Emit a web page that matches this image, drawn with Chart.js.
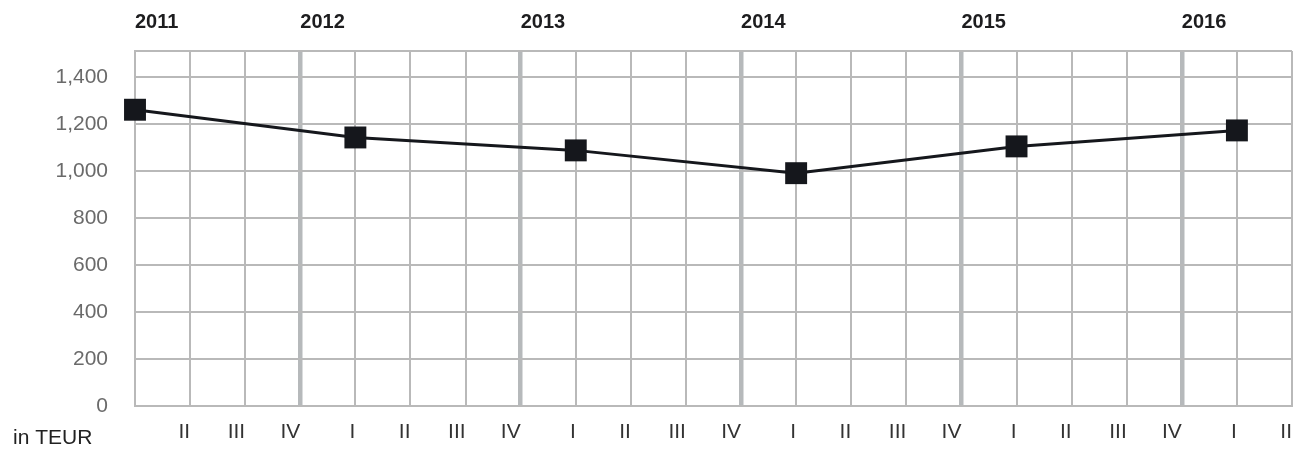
<!DOCTYPE html>
<html>
<head>
<meta charset="utf-8">
<script src="https://cdn.jsdelivr.net/npm/chart.js@4/dist/chart.umd.min.js"></script>
<style>
  html, body { margin: 0; padding: 0; background: #fff; }
  #wrap { position: relative; width: 1293px; height: 452px; }
</style>
</head>
<body>
<div id="wrap"><canvas id="c" width="1293" height="452"></canvas></div>
<script>
// Quarter tick labels (bottom axis)
const quarterLabels = ['', 'II', 'III', 'IV', 'I', 'II', 'III', 'IV', 'I', 'II', 'III', 'IV',
                       'I', 'II', 'III', 'IV', 'I', 'II', 'III', 'IV', 'I', 'II'];
// Year labels (top axis)
const yearLabels = ['2011', '', '', '2012', '', '', '', '2013', '', '', '', '2014',
                    '', '', '', '2015', '', '', '', '2016', '', ''];
// Values in TEUR (only at quarter I of each year)
const values = [1261, null, null, null, 1143, null, null, null, 1088, null, null, null,
                991, null, null, null, 1105, null, null, null, 1173, null];
const yTicks = [0, 200, 400, 600, 800, 1000, 1200, 1400];
const unitLabel = 'in TEUR';

const FONT = "'Liberation Sans', Arial, Helvetica, sans-serif";
const GRID = '#b9b9b9';
const THICK = '#b6b9bb';

const unitPlugin = {
  id: 'unitLabel',
  afterDraw(chart) {
    const ctx = chart.ctx;
    ctx.save();
    ctx.font = '21px ' + FONT;
    ctx.fillStyle = '#222';
    ctx.textAlign = 'left';
    ctx.textBaseline = 'middle';
    ctx.fillText(unitLabel, 13, 438);
    ctx.restore();
  }
};

function noPad(s) { s.paddingLeft = 0; s.paddingRight = 0; }

new Chart(document.getElementById('c'), {
  type: 'line',
  data: {
    labels: quarterLabels,
    datasets: [{
      data: values,
      spanGaps: true,
      borderColor: '#15171c',
      borderWidth: 3,
      pointStyle: 'rect',
      pointRadius: 15.5,
      pointHoverRadius: 15.5,
      pointBackgroundColor: '#15171c',
      pointBorderColor: '#15171c',
      pointBorderWidth: 0,
      tension: 0,
      clip: false
    }]
  },
  options: {
    responsive: false,
    animation: false,
    events: [],
    layout: { autoPadding: false, padding: { left: 0, right: 1, top: 0, bottom: 0 } },
    plugins: { legend: { display: false }, tooltip: { enabled: false } },
    scales: {
      x: {
        type: 'category',
        position: 'bottom',
        offset: false,
        grid: {
          color: GRID,
          lineWidth: 2,
          drawTicks: false
        },
        border: { display: true, color: GRID, width: 2 },
        ticks: {
          autoSkip: false,
          maxRotation: 0,
          minRotation: 0,
          align: 'end',
          padding: 14,
          color: '#333',
          font: { family: FONT, size: 21 }
        },
        afterFit(s) { s.height = 46; noPad(s); }
      },
      x2: {
        type: 'category',
        position: 'top',
        labels: yearLabels,
        offset: false,
        z: 1,
        grid: {
          color: (c) => (c.index - 3) % 4 === 0 && c.index >= 3 ? THICK : 'rgba(0,0,0,0)',
          lineWidth: (c) => (c.index - 3) % 4 === 0 && c.index >= 3 ? 4.5 : 0,
          drawTicks: false
        },
        border: { display: true, color: GRID, width: 2 },
        ticks: {
          autoSkip: false,
          maxRotation: 0,
          minRotation: 0,
          align: 'start',
          padding: 17,
          color: '#1d1d1f',
          font: { family: FONT, size: 20, weight: 'bold' }
        },
        afterFit(s) { s.height = 51; noPad(s); }
      },
      y: {
        type: 'linear',
        min: 0,
        max: 1511,
        grid: { color: GRID, lineWidth: 2, drawTicks: false },
        border: { display: true, color: GRID, width: 2 },
        afterBuildTicks(s) { s.ticks = yTicks.map(v => ({ value: v })); },
        ticks: {
          padding: 27,
          color: '#6a6a6a',
          font: { family: FONT, size: 21 },
          callback: (v) => v.toLocaleString('en-US')
        },
        afterFit(s) { s.width = 135; }
      }
    }
  },
  plugins: [unitPlugin]
});
</script>
</body>
</html>
